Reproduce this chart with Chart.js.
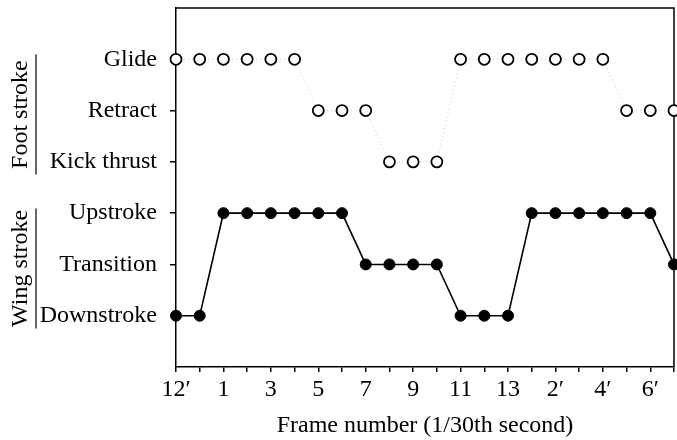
<!DOCTYPE html>
<html>
<head>
<meta charset="utf-8">
<script src="https://cdn.jsdelivr.net/npm/chart.js@4/dist/chart.umd.min.js"></script>
<style>
html, body { margin: 0; padding: 0; background: #fff; }
</style>
</head>
<body>
<canvas id="myChart" width="677" height="440"></canvas>
<script>
// 프레임 번호 (x축)
var frames = ['12′', '13′', '1', '2', '3', '4', '5', '6', '7', '8', '9', '10', '11', '12', '13',
              '1′', '2′', '3′', '4′', '5′', '6′', '7′'];
// y축 단계 이름
var levelNames = ['', 'Downstroke', 'Transition', 'Upstroke', 'Kick thrust', 'Retract', 'Glide', ''];
// 발 동작 / 날개 동작 (levelNames 인덱스)
var footStroke = [6, 6, 6, 6, 6, 6, 5, 5, 5, 4, 4, 4, 6, 6, 6, 6, 6, 6, 6, 5, 5, 5];
var wingStroke = [1, 1, 3, 3, 3, 3, 3, 3, 2, 2, 2, 2, 1, 1, 1, 3, 3, 3, 3, 3, 3, 2];
// 왼쪽 그룹 이름
var groups = [
    { name: 'Foot stroke', mid: 5 },
    { name: 'Wing stroke', mid: 2 }
];

var serif = '"Liberation Serif", "DejaVu Serif", serif';

var framePlugin = {
    id: 'frame',
    beforeDatasetsDraw: function(chart) {
        var ctx = chart.ctx;
        var a = chart.chartArea;
        ctx.save();
        ctx.strokeStyle = '#000';
        ctx.lineWidth = 1.5;
        ctx.beginPath();
        ctx.moveTo(a.left, a.top);
        ctx.lineTo(a.right, a.top);
        ctx.lineTo(a.right, a.bottom);
        ctx.stroke();
        ctx.restore();
    },
    afterDraw: function(chart) {
        var ctx = chart.ctx;
        var y = chart.scales.y;
        ctx.save();
        groups.forEach(function(g) {
            var cy = y.getPixelForValue(g.mid) + 4;
            ctx.strokeStyle = '#333';
            ctx.lineWidth = 1.5;
            ctx.beginPath();
            ctx.moveTo(36, cy - 60);
            ctx.lineTo(36, cy + 60);
            ctx.stroke();
            ctx.translate(21, cy);
            ctx.rotate(-Math.PI / 2);
            ctx.fillStyle = '#000';
            ctx.font = '24px ' + serif;
            ctx.textAlign = 'center';
            ctx.textBaseline = 'middle';
            ctx.fillText(g.name, 0, 0);
            ctx.setTransform(1, 0, 0, 1, 0, 0);
        });
        ctx.restore();
    }
};

var chartArea = document.getElementById('myChart').getContext('2d');
var myChart = new Chart(chartArea, {
    type: 'line',
    data: {
        labels: frames,
        datasets: [{
            label: 'Foot stroke',
            data: footStroke,
            borderColor: '#c8c8c8',
            borderWidth: 1,
            borderDash: [1, 3],
            pointRadius: 5.5,
            pointBorderWidth: 1.8,
            pointBorderColor: '#000',
            pointBackgroundColor: '#fff',
            clip: false
        },
        {
            label: 'Wing stroke',
            data: wingStroke,
            borderColor: '#000',
            borderWidth: 1.6,
            pointRadius: 5.5,
            pointBorderWidth: 1,
            pointBorderColor: '#000',
            pointBackgroundColor: '#000',
            clip: false
        }]
    },
    options: {
        responsive: false,
        animation: false,
        layout: { autoPadding: false, padding: { top: 8, right: 3, bottom: 0, left: 0 } },
        plugins: {
            legend: { display: false },
            tooltip: { enabled: false }
        },
        scales: {
            x: {
                offset: false,
                afterFit: function(scale) {
                    scale.height = 73;
                    scale.paddingLeft = 0;
                    scale.paddingRight = 0;
                },
                border: { color: '#000', width: 1.5 },
                grid: {
                    drawOnChartArea: false,
                    tickLength: 5,
                    tickColor: '#000',
                    lineWidth: 1.5
                },
                ticks: {
                    autoSkip: false,
                    maxRotation: 0,
                    padding: 3,
                    color: '#000',
                    font: { family: serif, size: 24 },
                    callback: function(v, i) { return i % 2 === 0 ? frames[i] : ''; }
                },
                title: {
                    display: true,
                    text: 'Frame number (1/30th second)',
                    color: '#000',
                    font: { family: serif, size: 24 },
                    padding: { top: 4, bottom: 0 }
                }
            },
            y: {
                min: 0,
                max: 7,
                afterFit: function(scale) {
                    scale.width = 176;
                    scale.paddingTop = 0;
                    scale.paddingBottom = 0;
                },
                border: { color: '#000', width: 1.5 },
                grid: {
                    drawOnChartArea: false,
                    tickLength: 6,
                    lineWidth: 1.5,
                    tickColor: function(c) {
                        return (c.tick && c.tick.value >= 1 && c.tick.value <= 6) ? '#000' : 'rgba(0,0,0,0)';
                    }
                },
                ticks: {
                    stepSize: 1,
                    padding: 13,
                    color: '#000',
                    font: { family: serif, size: 24 },
                    callback: function(v) { return levelNames[v]; }
                }
            }
        }
    },
    plugins: [framePlugin]
});
</script>
</body>
</html>
